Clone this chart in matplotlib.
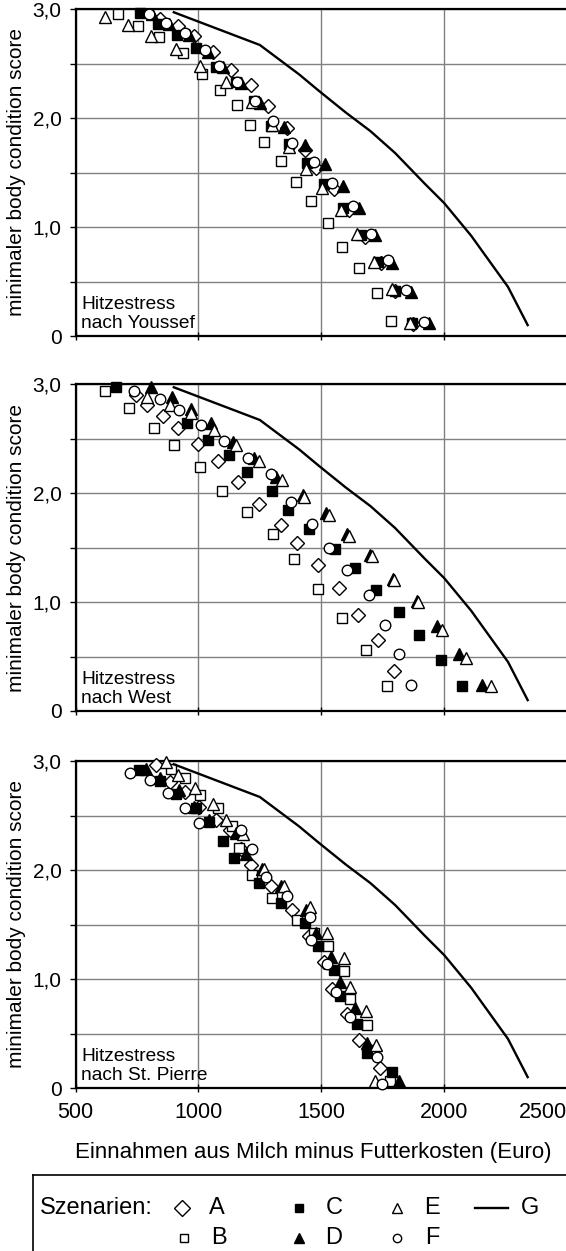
import matplotlib
matplotlib.use("Agg")
import matplotlib.pyplot as plt
from matplotlib.lines import Line2D

plt.rcParams['font.family'] = ['Liberation Sans', 'DejaVu Sans']

# Szenario G (same curve in all three panels)
g_x = [900, 1110, 1250, 1410, 1490, 1600, 1700, 1800, 1920, 2000, 2110, 2260, 2340]
g_y = [2.97, 2.79, 2.67, 2.40, 2.25, 2.05, 1.88, 1.68, 1.40, 1.22, 0.92, 0.45, 0.10]

# Panel 1: Hitzestress nach Youssef
y1_a_x = [842, 919, 983, 1058, 1132, 1213, 1283, 1360, 1432, 1478, 1551, 1612, 1676, 1744, 1802, 1875]
y1_a_y = [2.91, 2.84, 2.75, 2.61, 2.44, 2.30, 2.11, 1.91, 1.71, 1.54, 1.35, 1.16, 0.91, 0.67, 0.41, 0.11]
y1_b_x = [671, 756, 841, 939, 1016, 1087, 1157, 1209, 1267, 1338, 1396, 1460, 1528, 1585, 1655, 1726, 1784]
y1_b_y = [2.95, 2.84, 2.74, 2.60, 2.40, 2.26, 2.12, 1.94, 1.78, 1.61, 1.41, 1.24, 1.04, 0.82, 0.62, 0.39, 0.14]
y1_c_x = [761, 835, 911, 992, 1073, 1154, 1225, 1296, 1370, 1442, 1511, 1590, 1660, 1730, 1800, 1870]
y1_c_y = [2.96, 2.86, 2.76, 2.64, 2.47, 2.33, 2.16, 1.93, 1.76, 1.59, 1.39, 1.17, 0.93, 0.68, 0.41, 0.12]
y1_d_x = [810, 880, 960, 1040, 1100, 1175, 1250, 1350, 1435, 1517, 1588, 1652, 1720, 1787, 1865, 1940]
y1_d_y = [2.95, 2.86, 2.76, 2.61, 2.47, 2.32, 2.14, 1.92, 1.75, 1.58, 1.38, 1.17, 0.93, 0.67, 0.40, 0.12]
y1_e_x = [621, 712, 806, 908, 1005, 1113, 1217, 1300, 1369, 1437, 1503, 1580, 1645, 1713, 1787, 1860]
y1_e_y = [2.93, 2.85, 2.75, 2.63, 2.48, 2.33, 2.15, 1.94, 1.73, 1.53, 1.36, 1.16, 0.94, 0.68, 0.43, 0.12]
y1_f_x = [800, 867, 946, 1027, 1083, 1159, 1229, 1305, 1381, 1470, 1544, 1628, 1703, 1771, 1845, 1918]
y1_f_y = [2.95, 2.87, 2.78, 2.62, 2.48, 2.33, 2.16, 1.97, 1.77, 1.60, 1.40, 1.19, 0.94, 0.70, 0.42, 0.13]

# Panel 2: Hitzestress nach West
w_a_x = [748, 792, 856, 917, 997, 1081, 1162, 1247, 1335, 1402, 1487, 1571, 1649, 1729, 1796]
w_a_y = [2.90, 2.81, 2.71, 2.60, 2.45, 2.29, 2.10, 1.90, 1.71, 1.54, 1.34, 1.13, 0.88, 0.65, 0.37]
w_b_x = [620, 717, 818, 900, 1007, 1096, 1197, 1303, 1391, 1486, 1585, 1682, 1769]
w_b_y = [2.94, 2.78, 2.60, 2.44, 2.24, 2.02, 1.83, 1.62, 1.39, 1.12, 0.85, 0.56, 0.23]
w_c_x = [663, 954, 1038, 1126, 1197, 1299, 1365, 1450, 1555, 1639, 1722, 1817, 1899, 1987, 2073]
w_c_y = [2.97, 2.64, 2.49, 2.35, 2.19, 2.02, 1.84, 1.67, 1.49, 1.31, 1.11, 0.91, 0.70, 0.47, 0.23]
w_d_x = [809, 892, 968, 1052, 1139, 1227, 1315, 1425, 1518, 1605, 1700, 1792, 1888, 1969, 2061, 2154]
w_d_y = [2.97, 2.88, 2.77, 2.64, 2.47, 2.32, 2.15, 1.98, 1.82, 1.62, 1.43, 1.21, 1.01, 0.78, 0.52, 0.24]
w_e_x = [792, 883, 970, 1065, 1155, 1247, 1339, 1429, 1531, 1612, 1706, 1798, 1895, 1990, 2091, 2189]
w_e_y = [2.88, 2.81, 2.73, 2.58, 2.44, 2.29, 2.12, 1.96, 1.80, 1.61, 1.42, 1.20, 1.00, 0.74, 0.49, 0.23]
w_f_x = [738, 842, 923, 1011, 1103, 1203, 1295, 1378, 1462, 1533, 1605, 1695, 1760, 1817, 1864]
w_f_y = [2.94, 2.86, 2.76, 2.62, 2.48, 2.32, 2.17, 1.92, 1.72, 1.50, 1.29, 1.06, 0.79, 0.52, 0.24]

# Panel 3: Hitzestress nach St. Pierre
p_a_x = [829, 883, 947, 1004, 1072, 1128, 1173, 1213, 1294, 1382, 1450, 1510, 1544, 1605, 1652, 1740]
p_a_y = [2.96, 2.81, 2.72, 2.58, 2.46, 2.37, 2.19, 2.05, 1.85, 1.63, 1.39, 1.16, 0.91, 0.68, 0.44, 0.18]
p_b_x = [887, 947, 1008, 1078, 1136, 1165, 1217, 1301, 1400, 1470, 1528, 1591, 1618, 1686, 1700, 1780]
p_b_y = [2.93, 2.84, 2.69, 2.57, 2.40, 2.20, 1.95, 1.74, 1.54, 1.42, 1.30, 1.07, 0.82, 0.58, 0.35, 0.06]
p_c_x = [758, 842, 910, 991, 1045, 1099, 1146, 1247, 1335, 1433, 1487, 1551, 1578, 1645, 1686, 1787]
p_c_y = [2.92, 2.82, 2.70, 2.57, 2.44, 2.27, 2.11, 1.88, 1.70, 1.51, 1.30, 1.08, 0.84, 0.59, 0.32, 0.15]
p_d_x = [785, 842, 920, 984, 1045, 1153, 1193, 1260, 1335, 1436, 1479, 1541, 1578, 1639, 1686, 1817]
p_d_y = [2.93, 2.84, 2.73, 2.58, 2.46, 2.34, 2.15, 2.01, 1.85, 1.63, 1.42, 1.20, 0.97, 0.73, 0.41, 0.06]
p_e_x = [869, 916, 988, 1058, 1112, 1182, 1267, 1348, 1456, 1524, 1591, 1618, 1682, 1722, 1720]
p_e_y = [2.99, 2.87, 2.75, 2.61, 2.46, 2.33, 2.01, 1.85, 1.66, 1.42, 1.19, 0.93, 0.71, 0.39, 0.06]
p_f_x = [723, 802, 876, 947, 1004, 1173, 1220, 1274, 1359, 1456, 1460, 1524, 1558, 1618, 1726, 1749]
p_f_y = [2.89, 2.83, 2.71, 2.57, 2.43, 2.37, 2.19, 1.94, 1.76, 1.57, 1.36, 1.14, 0.88, 0.65, 0.28, 0.04]

panels = [
    ("Hitzestress\nnach Youssef",
     [(y1_a_x, y1_a_y), (y1_b_x, y1_b_y), (y1_c_x, y1_c_y), (y1_d_x, y1_d_y), (y1_e_x, y1_e_y), (y1_f_x, y1_f_y)]),
    ("Hitzestress\nnach West",
     [(w_a_x, w_a_y), (w_b_x, w_b_y), (w_c_x, w_c_y), (w_d_x, w_d_y), (w_e_x, w_e_y), (w_f_x, w_f_y)]),
    ("Hitzestress\nnach St. Pierre",
     [(p_a_x, p_a_y), (p_b_x, p_b_y), (p_c_x, p_c_y), (p_d_x, p_d_y), (p_e_x, p_e_y), (p_f_x, p_f_y)]),
]

# marker styles for scenarios A..F
styles = [
    dict(marker='D', ms=7.6, mfc='white'),
    dict(marker='s', ms=7.2, mfc='white'),
    dict(marker='s', ms=7.2, mfc='black'),
    dict(marker='^', ms=8.2, mfc='black'),
    dict(marker='^', ms=8.2, mfc='white'),
    dict(marker='o', ms=7.6, mfc='white'),
]

W, H = 566, 1251
fig = plt.figure(figsize=(W / 100, H / 100), dpi=100)

left_px, right_px = 75.5, 567
tops = [9, 384, 761]
ph = 327

for i, (label, series) in enumerate(panels):
    ax = fig.add_axes([left_px / W, 1 - (tops[i] + ph) / H, (right_px - left_px) / W, ph / H])
    ax.set_xlim(500, 2500)
    ax.set_ylim(0, 3)
    ax.set_xticks([500, 1000, 1500, 2000, 2500])
    ax.set_yticks([0, 1, 2, 3])
    ax.set_yticks([0.5, 1.5, 2.5], minor=True)
    ax.set_yticklabels(["0", "1,0", "2,0", "3,0"])
    ax.grid(True, which='both', color='#808080', linewidth=1.0)
    ax.set_axisbelow(True)
    for side in ['top', 'left', 'bottom']:
        ax.spines[side].set_linewidth(1.6)
    ax.spines['right'].set_visible(False)
    ax.tick_params(axis='y', which='both', direction='out', length=4, width=1, labelsize=15, pad=6)
    ax.tick_params(axis='x', direction='inout', length=6, width=1, labelsize=15.5, pad=7)
    ax.yaxis.set_label_coords(-0.101, 0.5)
    ax.set_ylabel("minimaler body condition score", fontsize=15)

    for (sx, sy), st in zip(series, styles):
        ax.plot(sx, sy, linestyle='none', marker=st['marker'], markersize=st['ms'],
                markerfacecolor=st['mfc'], markeredgecolor='black', markeredgewidth=1.0,
                clip_on=False, zorder=3)
    ax.plot(g_x, g_y, color='black', linewidth=1.7, zorder=4)

    ax.text(0.012, 0.012, label, transform=ax.transAxes, fontsize=13.8,
            ha='left', va='bottom', linespacing=1.15)

    if i < 2:
        ax.set_xticklabels([])
    else:
        labels = ax.get_xticklabels()
        labels[-1].set_horizontalalignment('right')
        ax.set_xlabel("Einnahmen aus Milch minus Futterkosten (Euro)", fontsize=16)
        ax.xaxis.set_label_coords(0.483, -0.165)

# legend box
lax = fig.add_axes([33 / W, 0, (W - 33) / W, (H - 1175) / H])
lax.set_xlim(33, W)
lax.set_ylim(H, 1175)
lax.set_xticks([])
lax.set_yticks([])
for side in ['right', 'bottom']:
    lax.spines[side].set_visible(False)
lax.spines['left'].set_linewidth(1.2)
lax.spines['top'].set_linewidth(1.2)

fs = 17
lax.text(40, 1208, "Szenarien:", fontsize=fs, ha='left', va='center')
leg_entries = [
    ("A", 'D', 'white', 182, 1208, 8.5),
    ("B", 's', 'white', 184, 1238, 6.0),
    ("C", 's', 'black', 299, 1208, 6.0),
    ("D", '^', 'black', 299, 1238, 6.5),
    ("E", '^', 'white', 397, 1208, 6.5),
    ("F", 'o', 'white', 397, 1238, 6.0),
]
for name, mk, fc, mx, my, ms in leg_entries:
    lax.add_line(Line2D([mx], [my], marker=mk, markersize=ms, markerfacecolor=fc,
                        markeredgecolor='black', markeredgewidth=1.0, linestyle='none'))
    lax.text(mx + 35, my, name, fontsize=fs, ha='center', va='center')
lax.add_line(Line2D([475, 508], [1208, 1208], color='black', linewidth=1.7))
lax.text(530, 1208, "G", fontsize=fs, ha='center', va='center')

fig.savefig("out.png", dpi=100)
